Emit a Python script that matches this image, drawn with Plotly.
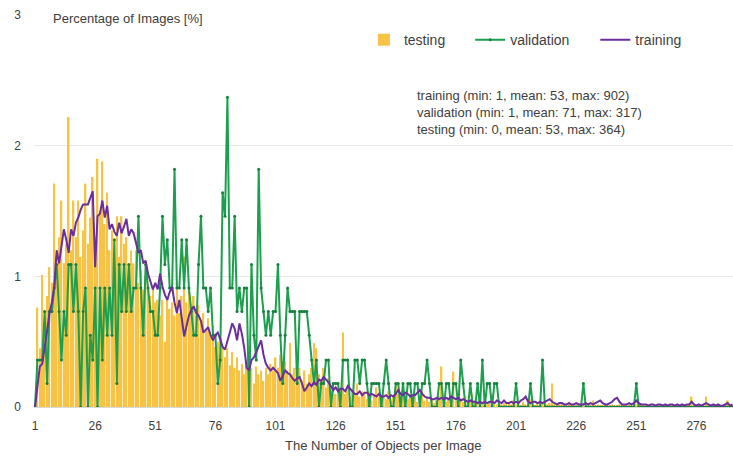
import plotly.graph_objects as go

# category index: number of objects per image (1..291)
categories = list(range(1, 292))

testing = [
    0, 0.76, 0.45, 1.01, 0.62, 0.85, 1.07, 0.95, 1.71, 1.15,
    1.30, 1.58, 1.10, 1.25, 2.22, 1.20, 1.58, 1.30, 1.58, 1.15,
    1.35, 1.71, 1.25, 1.45, 1.76, 1.30, 1.90, 1.50, 1.88, 1.40,
    1.64, 1.20, 1.35, 1.10, 1.46, 1.15, 1.46, 1.25, 1.30, 1.05,
    1.20, 1.10, 1.20, 0.95, 1.05, 0.90, 1.00, 0.92, 0.85, 0.92,
    0.80, 0.82, 0.70, 0.82, 0.50, 0.82, 0.75, 0.80, 0.70, 0.92,
    0.72, 0.85, 1.15, 0.80, 0.90, 0.72, 0.85, 0.70, 0.78, 0.65,
    0.72, 0.60, 0.68, 0.55, 0.62, 0.46, 0.50, 0.40, 0.46, 0.38,
    0.45, 0.32, 0.42, 0.30, 0.38, 0.28, 0.33, 0.25, 0.35, 0.22,
    0.30, 0.18, 0.31, 0.25, 0.28, 0.20, 0.30, 0.25, 0.33, 0.28,
    0.38, 0.30, 0.40, 0.32, 0.35, 0.28, 0.49, 0.25, 0.30, 0.22,
    0.30, 0.20, 0.28, 0.18, 0.25, 0.30, 0.49, 0.45, 0.25, 0.20,
    0.30, 0.15, 0.22, 0.12, 0.18, 0.10, 0.15, 0.12, 0.57, 0.10,
    0.15, 0.08, 0.12, 0.10, 0.18, 0.08, 0.12, 0.10, 0.06, 0.12,
    0.05, 0.10, 0.15, 0.08, 0.05, 0.10, 0.06, 0.12, 0.05, 0.08,
    0.18, 0.10, 0.05, 0.08, 0.04, 0.06, 0.10, 0.05, 0.08, 0.04,
    0.06, 0.12, 0.05, 0.08, 0.04, 0.06, 0.03, 0.05, 0.08, 0.31,
    0.05, 0.04, 0.06, 0.03, 0.27, 0.05, 0.03, 0.06, 0.04, 0.08,
    0.03, 0.05, 0.10, 0.03, 0.05, 0.06, 0.03, 0.05, 0.02, 0.04,
    0.10, 0.03, 0.02, 0.05, 0.02, 0.03, 0.02, 0.04, 0.02, 0.05,
    0.02, 0.03, 0.01, 0.04, 0.02, 0.03, 0.06, 0.02, 0.01, 0.03,
    0.02, 0.04, 0.01, 0.02, 0.03, 0.18, 0.02, 0.01, 0.03, 0.02,
    0.01, 0.02, 0.04, 0.01, 0.02, 0.01, 0.03, 0.01, 0.02, 0.01,
    0.02, 0.01, 0.05, 0.01, 0.02, 0.01, 0.01, 0.03, 0.01, 0.01,
    0.02, 0.01, 0.01, 0.02, 0.01, 0.01, 0.01, 0.02, 0.01, 0.01,
    0.02, 0.01, 0.01, 0.01, 0.02, 0.01, 0.01, 0.01, 0.01, 0.02,
    0.01, 0.01, 0.01, 0.01, 0.01, 0.02, 0.01, 0.01, 0.01, 0.01,
    0.01, 0.01, 0.01, 0.08, 0.01, 0.01, 0.01, 0.01, 0.01, 0.08,
    0.01, 0.01, 0.01, 0.01, 0.01, 0.01, 0.01, 0.01, 0.05, 0.01, 0.01,
]

training = [
    0, 0.15, 0.31, 0.33, 0.44, 0.58, 0.72, 0.80, 0.92, 1.20,
    1.10, 1.25, 1.36, 1.28, 1.18, 1.36, 1.31, 1.41, 1.45, 1.51,
    1.55, 1.55, 1.55, 1.60, 1.65, 1.07, 1.46, 1.48, 1.58, 1.45,
    1.54, 1.36, 1.40, 1.34, 1.31, 1.41, 1.33, 1.38, 1.44, 1.31,
    1.36, 1.33, 1.25, 1.18, 1.20, 1.10, 1.12, 1.02, 0.96, 0.90,
    0.95, 0.90, 1.02, 0.92, 0.86, 0.82, 0.88, 0.92, 0.80, 0.72,
    0.82, 0.69, 0.54, 0.62, 0.70, 0.74, 0.77, 0.72, 0.70, 0.66,
    0.57, 0.59, 0.61, 0.55, 0.51, 0.55, 0.57, 0.52, 0.46, 0.44,
    0.50, 0.57, 0.64, 0.60, 0.51, 0.64, 0.56, 0.45, 0.30, 0.28,
    0.36, 0.38, 0.42, 0.46, 0.51, 0.40, 0.33, 0.30, 0.28, 0.30,
    0.28, 0.26, 0.20, 0.24, 0.28, 0.26, 0.25, 0.22, 0.20, 0.22,
    0.23, 0.18, 0.12, 0.15, 0.18, 0.16, 0.19, 0.17, 0.21, 0.20,
    0.23, 0.21, 0.19, 0.16, 0.13, 0.15, 0.12, 0.14, 0.14, 0.12,
    0.16, 0.14, 0.12, 0.10, 0.10, 0.12, 0.09, 0.11, 0.11, 0.09,
    0.10, 0.09, 0.08, 0.10, 0.08, 0.08, 0.09, 0.07, 0.09, 0.08,
    0.10, 0.13, 0.10, 0.09, 0.11, 0.10, 0.08, 0.09, 0.09, 0.11,
    0.13, 0.10, 0.08, 0.07, 0.07, 0.06, 0.06, 0.07, 0.06, 0.07,
    0.06, 0.07, 0.06, 0.08, 0.07, 0.06, 0.07, 0.05, 0.06, 0.05,
    0.04, 0.05, 0.04, 0.04, 0.03, 0.04, 0.03, 0.04, 0.03, 0.04,
    0.04, 0.03, 0.05, 0.04, 0.03, 0.05, 0.03, 0.03, 0.04, 0.03,
    0.04, 0.03, 0.05, 0.06, 0.08, 0.04, 0.03, 0.04, 0.04, 0.03,
    0.04, 0.03, 0.04, 0.05, 0.06, 0.04, 0.03, 0.02, 0.03, 0.03,
    0.02, 0.02, 0.03, 0.02, 0.02, 0.03, 0.02, 0.02, 0.02, 0.03,
    0.02, 0.03, 0.02, 0.03, 0.04, 0.05, 0.03, 0.02, 0.02, 0.03,
    0.04, 0.06, 0.07, 0.04, 0.02, 0.02, 0.02, 0.03, 0.02, 0.03,
    0.05, 0.03, 0.02, 0.02, 0.02, 0.01, 0.02, 0.02, 0.01, 0.02,
    0.02, 0.01, 0.02, 0.01, 0.02, 0.02, 0.01, 0.02, 0.01, 0.02,
    0.01, 0.02, 0.02, 0.04, 0.02, 0.01, 0.02, 0.01, 0.02, 0.03,
    0.02, 0.01, 0.02, 0.01, 0.02, 0.01, 0.01, 0.02, 0.03, 0.01, 0.02,
]

validation = [
    0, 0.36, 0.36, 0.36, 0.73, 0.18, 0.73, 0.73, 0.91, 1.09,
    0.73, 0.36, 0.73, 0.55, 1.09, 1.09, 0.73, 1.09, 0.73, 0,
    0.73, 0.91, 0, 0.55, 0.36, 0.91, 0, 0.91, 0.36, 0.91,
    0.55, 0.91, 0.55, 1.28, 0.18, 1.09, 0.73, 1.09, 0.73, 1.09,
    0.73, 0.91, 0.91, 1.46, 0.91, 0.55, 1.09, 0.91, 0.73, 0.73,
    0.55, 0.55, 0.91, 1.46, 1.09, 1.28, 0.91, 0.91, 1.82, 0.91,
    0.91, 1.28, 0.91, 1.28, 0.91, 0.73, 0.55, 0.55, 1.09, 1.46,
    0.91, 0.91, 0.73, 0.91, 0.55, 0.55, 0.18, 0.36, 1.64, 1.46,
    2.37, 0.91, 0.91, 1.46, 0.73, 0.91, 0.73, 0.91, 0.91, 0,
    1.09, 0.55, 0.36, 1.82, 0.91, 0.73, 0.55, 0.73, 0.55, 0.73,
    0.73, 1.09, 0.55, 0.18, 0.55, 0.91, 0.73, 0.73, 0.73, 0.18,
    0.73, 0.73, 0.73, 0.73, 0.55, 0.36, 0.18, 0.36, 0, 0.18,
    0.18, 0.36, 0.36, 0, 0.18, 0.18, 0.18, 0, 0.36, 0.36,
    0.36, 0, 0, 0.36, 0.36, 0.18, 0.36, 0.36, 0.18, 0,
    0.18, 0.18, 0.18, 0.18, 0, 0.18, 0.36, 0.18, 0, 0,
    0.18, 0.18, 0, 0.18, 0, 0.18, 0.18, 0, 0.18, 0.18,
    0, 0.18, 0.18, 0.36, 0.18, 0, 0, 0, 0.18, 0.18,
    0, 0.18, 0.18, 0, 0.18, 0.18, 0, 0.36, 0.18, 0,
    0, 0.18, 0, 0, 0.18, 0, 0.36, 0, 0.18, 0.18,
    0, 0.18, 0.18, 0, 0, 0, 0, 0, 0, 0,
    0.18, 0, 0, 0, 0, 0, 0.18, 0, 0, 0,
    0, 0.36, 0, 0, 0, 0, 0, 0, 0, 0,
    0, 0, 0, 0, 0, 0, 0, 0, 0.18, 0,
    0, 0, 0, 0, 0, 0, 0, 0, 0, 0,
    0, 0, 0, 0, 0, 0, 0, 0, 0, 0,
    0.18, 0, 0, 0, 0, 0, 0, 0, 0, 0,
    0, 0, 0, 0, 0, 0, 0, 0, 0, 0,
    0, 0, 0, 0, 0, 0, 0, 0, 0, 0,
    0, 0, 0, 0, 0, 0, 0, 0, 0, 0, 0,
]

tick_vals = [1, 26, 51, 76, 101, 126, 151, 176, 201, 226, 251, 276]
tick_text = [str(v) for v in tick_vals]
stats_lines = [
    "training (min: 1, mean: 53, max: 902)",
    "validation (min: 1, mean: 71, max: 317)",
    "testing (min: 0, mean: 53, max: 364)",
]

FONT = "Liberation Sans, Arial, sans-serif"
TXT = "#404040"

fig = go.Figure()
fig.add_trace(go.Bar(x=categories, y=testing, name="testing",
                     marker=dict(color="#F6C344", line=dict(width=0)),
                     legend="legend", showlegend=True))
fig.add_trace(go.Scatter(x=categories, y=validation, name="validation",
                         mode="lines+markers",
                         line=dict(color="#1E9E4F", width=2),
                         marker=dict(color="#17803F", size=3),
                         legend="legend2", showlegend=True))
fig.add_trace(go.Scatter(x=categories, y=training, name="training",
                         mode="lines",
                         line=dict(color="#6B2E9C", width=2),
                         legend="legend3", showlegend=True))

leg_common = dict(orientation="h", yanchor="middle", y=0.936, xanchor="left",
                  bgcolor="rgba(0,0,0,0)", font=dict(family=FONT, size=14, color=TXT),
                  itemwidth=30)

fig.update_layout(
    width=733, height=458,
    margin=dict(l=34, r=0, t=15, b=51),
    paper_bgcolor="white", plot_bgcolor="white",
    bargap=0.35,
    showlegend=True,
    font=dict(family=FONT, color=TXT, size=12),
    legend=dict(x=0.472, **leg_common),
    legend2=dict(x=0.624, **leg_common),
    legend3=dict(x=0.803, **leg_common),
    xaxis=dict(range=[0.58, 291.2], tickmode="array", tickvals=tick_vals,
               ticktext=tick_text, showgrid=False, zeroline=False,
               showline=True, linecolor="#D9D9D9", ticks="", automargin=False,
               tickfont=dict(family=FONT, size=12, color=TXT),
               ticklabelstandoff=8),
    yaxis=dict(range=[0, 3], tickvals=[0, 1, 2, 3], showgrid=True,
               gridcolor="#E8E8E8", zeroline=False, ticks="", automargin=False,
               tickfont=dict(family=FONT, size=12, color=TXT),
               ticklabelstandoff=12),
    annotations=[
        dict(text="Percentage of Images [%]", xref="paper", yref="paper",
             x=(51 - 34) / 699, y=(407 - 18) / 392, xanchor="left", yanchor="middle",
             showarrow=False, font=dict(family=FONT, size=13, color=TXT)),
        dict(text="The Number of Objects per Image", xref="paper", yref="paper",
             x=0.5, y=-(445 - 407) / 392, xanchor="center", yanchor="middle",
             showarrow=False, font=dict(family=FONT, size=13, color=TXT)),
        dict(text="<br>".join(stats_lines), xref="paper", yref="paper",
             x=(415 - 34) / 699, y=(407 - 86) / 392, xanchor="left", yanchor="top",
             align="left", showarrow=False,
             font=dict(family=FONT, size=13, color=TXT)),
    ],
)

fig.write_html("out.html", config={"displayModeBar": False},
               post_script="document.body.style.margin='0';document.body.style.overflow='hidden';")
